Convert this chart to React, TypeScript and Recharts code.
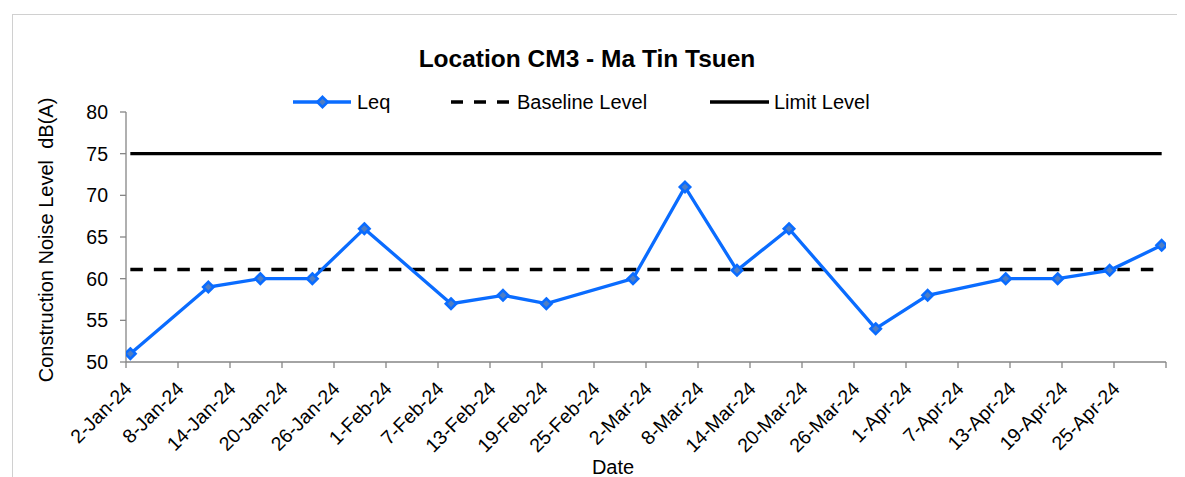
import React from 'react';
import { LineChart, Line, XAxis, YAxis, Legend } from 'recharts';

const dates = [
  '2-Jan-24', '11-Jan-24', '17-Jan-24', '23-Jan-24', '29-Jan-24',
  '8-Feb-24', '14-Feb-24', '19-Feb-24', '29-Feb-24',
  '6-Mar-24', '12-Mar-24', '18-Mar-24', '28-Mar-24',
  '3-Apr-24', '12-Apr-24', '18-Apr-24', '24-Apr-24', '30-Apr-24',
];
const leqValues = [51, 59, 60, 60, 66, 57, 58, 57, 60, 71, 61, 66, 54, 58, 60, 60, 61, 64];
const baselineLevel = 61.1;
const limitLevel = 75;
const yTicks = [50, 55, 60, 65, 70, 75, 80];
const xTickLabels = [
  '2-Jan-24', '8-Jan-24', '14-Jan-24', '20-Jan-24', '26-Jan-24', '1-Feb-24', '7-Feb-24',
  '13-Feb-24', '19-Feb-24', '25-Feb-24', '2-Mar-24', '8-Mar-24', '14-Mar-24', '20-Mar-24',
  '26-Mar-24', '1-Apr-24', '7-Apr-24', '13-Apr-24', '19-Apr-24', '25-Apr-24', '',
];

const MONTHS: Record<string, number> = { Jan: 0, Feb: 1, Mar: 2, Apr: 3, May: 4 };
const START = Date.UTC(2024, 0, 2);
const dayIndex = (s: string) => {
  const [d, m, y] = s.split('-');
  return Math.round((Date.UTC(2000 + Number(y), MONTHS[m], Number(d)) - START) / 86400000);
};

const data = dates.map((d, i) => ({
  x: dayIndex(d),
  leq: leqValues[i],
  baseline: baselineLevel,
  limit: limitLevel,
}));
// Excel date axis "between tick marks": tick marks on day boundaries
const xTicks = xTickLabels.map((_, i) => i * 6 - 0.5);

const FONT = '"Liberation Sans", Arial, sans-serif';
const BLUE = '#0a6cff';
const AXIS = '#868686';

const XTick = (props: any) => {
  const { x, y, payload } = props;
  const i = Math.round((payload.value + 0.5) / 6);
  const label = xTickLabels[i] ?? '';
  const ax = x + 7;
  const ay = y + 22;
  return (
    <text
      x={ax}
      y={ay}
      textAnchor="end"
      transform={`rotate(-45, ${ax}, ${ay})`}
      fontSize={19.5}
      fontFamily={FONT}
      fill="#000"
    >
      {label}
    </text>
  );
};

const Diamond = (props: any) => {
  const { cx, cy, index } = props;
  if (cx == null || cy == null) return <g key={`d${index}`} />;
  const r = 5.2;
  return (
    <path
      key={`d${index}`}
      d={`M${cx},${cy - r}L${cx + r},${cy}L${cx},${cy + r}L${cx - r},${cy}Z`}
      fill="#4f7ec4"
      stroke={BLUE}
      strokeWidth={2.6}
    />
  );
};

const LegendContent = () => (
  <svg width={530} height={34} style={{ display: 'block', overflow: 'visible' }}>
    <line x1={15} y1={16} x2={73} y2={16} stroke={BLUE} strokeWidth={3.3} />
    <path d="M44.5,10.8L49.7,16L44.5,21.2L39.3,16Z" fill="#4f7ec4" stroke={BLUE} strokeWidth={2.6} />
    <text x={79} y={23} fontSize={20} fontFamily={FONT} fill="#000">Leq</text>
    <line x1={173} y1={16} x2={233} y2={16} stroke="#000" strokeWidth={3.4} strokeDasharray="12 11" />
    <text x={239} y={23} fontSize={20} fontFamily={FONT} fill="#000">Baseline Level</text>
    <line x1={432} y1={16} x2={491} y2={16} stroke="#000" strokeWidth={3.4} />
    <text x={496} y={23} fontSize={20} fontFamily={FONT} fill="#000">Limit Level</text>
  </svg>
);

export default function App() {
  return (
    <div style={{ position: 'relative', width: 1177, height: 469, fontFamily: FONT, background: '#fff' }}>
      <div
        style={{
          position: 'absolute',
          left: 4,
          top: 6,
          right: 0,
          bottom: 0,
          borderLeft: '1.5px solid #d0d0d0',
          borderTop: '1.5px solid #d0d0d0',
        }}
      />
      <LineChart
        width={1177}
        height={469}
        data={data}
        margin={{ top: 104, right: 19, bottom: 0, left: 0 }}
        style={{ position: 'absolute', left: 0, top: 0 }}
      >
        <XAxis
          dataKey="x"
          type="number"
          domain={[-0.5, 119.5]}
          ticks={xTicks}
          interval={0}
          height={115}
          tickSize={6}
          tickMargin={0}
          tick={<XTick />}
          axisLine={{ stroke: AXIS, strokeWidth: 1.3 }}
          tickLine={{ stroke: AXIS, strokeWidth: 1.3 }}
          allowDataOverflow
        />
        <YAxis
          type="number"
          domain={[50, 80]}
          ticks={yTicks}
          interval={0}
          width={118}
          tickSize={6}
          tickMargin={12}
          tick={{ fontSize: 19.5, fill: '#000', fontFamily: FONT }}
          axisLine={{ stroke: AXIS, strokeWidth: 1.3 }}
          tickLine={{ stroke: AXIS, strokeWidth: 1.3 }}
        />
        <Legend
          layout="horizontal"
          verticalAlign="middle"
          align="center"
          content={<LegendContent />}
          wrapperStyle={{ position: 'absolute', left: 270, top: 78, width: 530, height: 34 }}
        />
        <Line
          dataKey="baseline"
          name="Baseline Level"
          stroke="#000"
          strokeWidth={3.4}
          strokeDasharray="12.5 11"
          dot={false}
          activeDot={false}
          isAnimationActive={false}
        />
        <Line
          dataKey="limit"
          name="Limit Level"
          stroke="#000"
          strokeWidth={3.4}
          dot={false}
          activeDot={false}
          isAnimationActive={false}
        />
        <Line
          dataKey="leq"
          name="Leq"
          stroke={BLUE}
          strokeWidth={3.3}
          dot={Diamond}
          activeDot={false}
          isAnimationActive={false}
        />
      </LineChart>
      <svg
        width={1177}
        height={469}
        style={{ position: 'absolute', left: 0, top: 0, pointerEvents: 'none' }}
      >
        <text x={579} y={59} textAnchor="middle" fontSize={24.5} fontWeight="bold" fontFamily={FONT} fill="#000">
          Location CM3 - Ma Tin Tsuen
        </text>
        <text
          x={45}
          y={232}
          textAnchor="middle"
          transform="rotate(-90, 45, 232)"
          fontSize={20}
          fontFamily={FONT}
          fill="#000"
          style={{ whiteSpace: 'pre' }}
        >
          {'Construction Noise Level  dB(A)'}
        </text>
        <text x={605} y={466} textAnchor="middle" fontSize={20} fontFamily={FONT} fill="#000">
          Date
        </text>
      </svg>
    </div>
  );
}
